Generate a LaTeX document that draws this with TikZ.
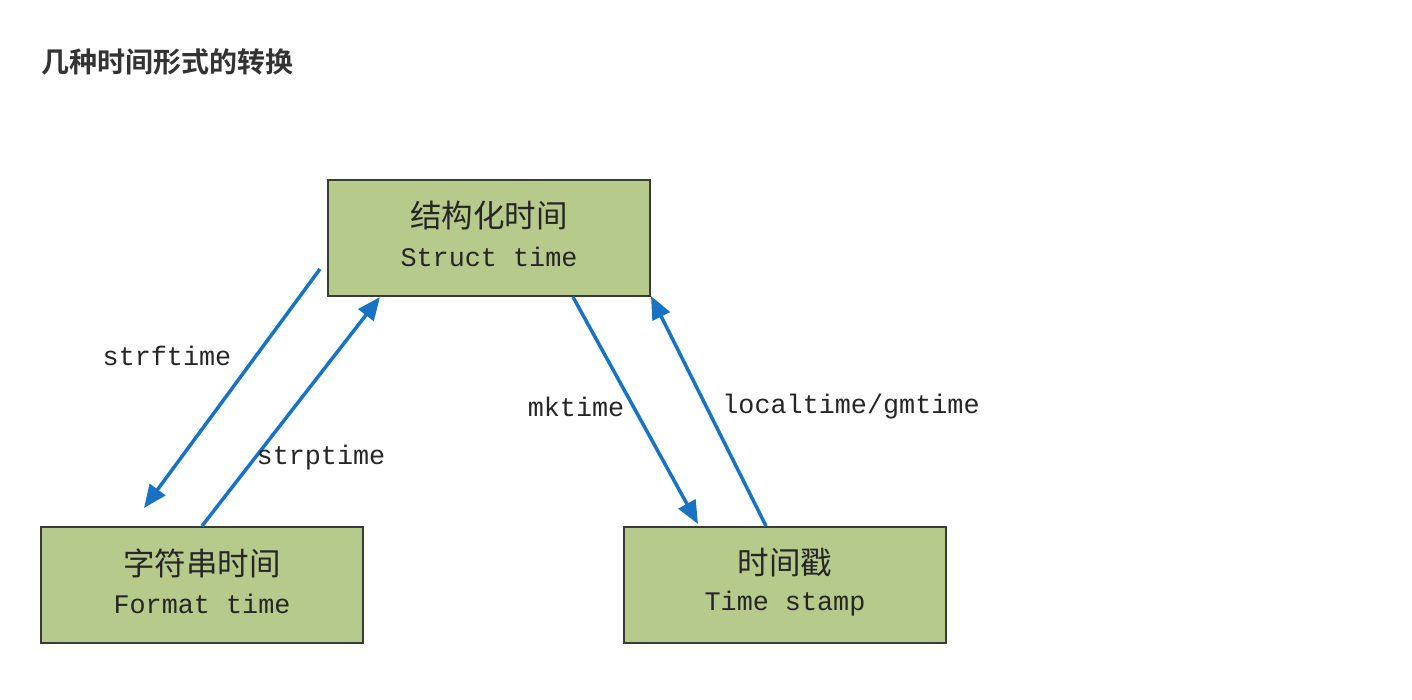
\documentclass[tikz,border=0pt]{standalone}
\usepackage{fontspec}
\newfontfamily\cjk{Noto Sans CJK SC}
\newfontfamily\cjkbold{Noto Sans CJK SC Bold}
\newfontfamily\monofnt{Liberation Mono}
\usetikzlibrary{arrows.meta}
\definecolor{boxfill}{HTML}{B6CA8C}
\definecolor{boxline}{HTML}{3A3A3A}
\definecolor{arrowblue}{HTML}{1873C5}
\definecolor{titlecol}{HTML}{333333}
\tikzset{
  statebox/.style={draw=boxline, line width=1.3pt, fill=boxfill, minimum width=322pt, minimum height=116pt, inner sep=0pt},
  cntext/.style={font=\cjk\fontsize{31.5pt}{34pt}\selectfont, text=black!85, inner sep=0pt},
  entext/.style={font=\monofnt\fontsize{26.8pt}{30pt}\selectfont, text=black!85, inner sep=0pt},
  conv/.style={draw=arrowblue, line width=3.5pt, -{Triangle[length=23pt,width=19pt]}},
}
\begin{document}
\begin{tikzpicture}[x=1pt,y=-1pt]
\useasboundingbox (0,0) rectangle (1412,699);
\fill[white] (0,0) rectangle (1412,699);
\node[anchor=west, font=\cjkbold\fontsize{28pt}{30pt}\selectfont, text=titlecol, inner sep=0pt] (title) at (41,62) {几种时间形式的转换};

\node[statebox] (struct) at (489,238) {};
\node[cntext] (structcn) at (489,216) {结构化时间};
\node[entext] (structen) at (489,257) {Struct time};

\node[statebox] (format) at (202,585) {};
\node[cntext] (formatcn) at (202,563) {字符串时间};
\node[entext] (formaten) at (202,604) {Format time};

\node[statebox] (stamp) at (785,585) {};
\node[cntext] (stampcn) at (785,563) {时间戳};
\node[entext] (stampen) at (785,604) {Time stamp};

\coordinate (a1s) at (320,269);
\coordinate (a1e) at (144,508);
\coordinate (a2s) at (202,526);
\coordinate (a2e) at (380,297);
\coordinate (a3s) at (573,297);
\coordinate (a3e) at (698,524);
\coordinate (a4s) at (766,526);
\coordinate (a4e) at (651,296);

\draw[conv] (a1s) -- (a1e);
\draw[conv] (a2s) -- (a2e);
\draw[conv] (a3s) -- (a3e);
\draw[conv] (a4s) -- (a4e);

\node[entext] (l1) at (167,356) {strftime};
\node[entext] (l2) at (321,458) {strptime};
\node[entext] (l3) at (576,407) {mktime};
\node[entext] (l4) at (851,407) {localtime/gmtime};
\end{tikzpicture}
\end{document}
